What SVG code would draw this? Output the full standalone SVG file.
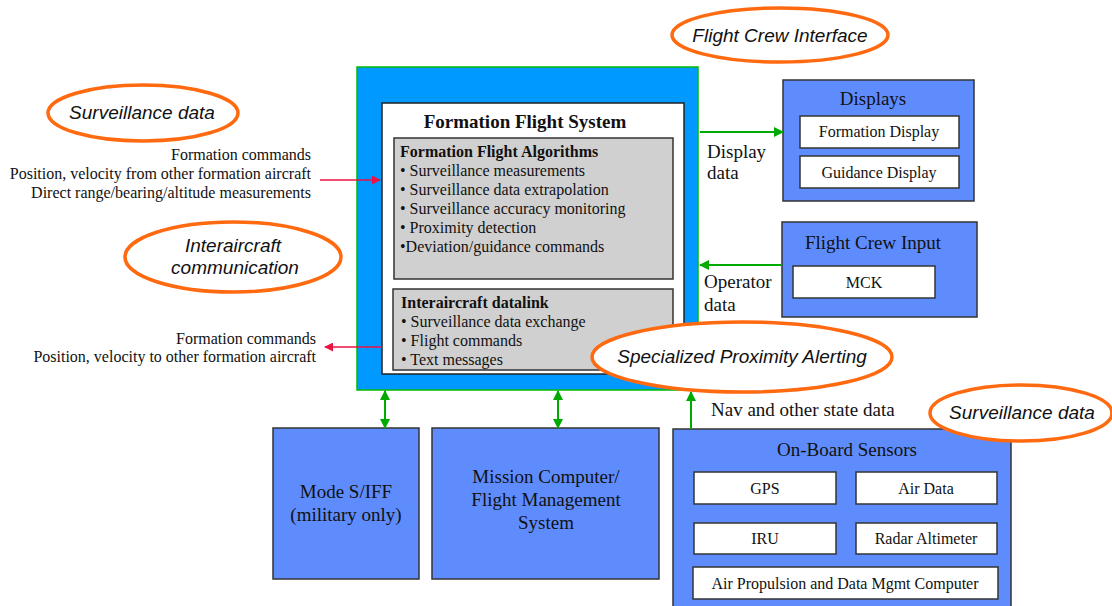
<svg xmlns="http://www.w3.org/2000/svg" width="1112" height="606" viewBox="0 0 1112 606">
<style>
.serif{font-family:"Liberation Serif","Times New Roman",serif;fill:#111}
.ell{fill:#fff;stroke:#ff6a10;stroke-width:3.5}
.etxt{font-family:"Liberation Sans",Arial,sans-serif;font-style:italic;font-size:19px;fill:#111;text-anchor:middle}
.node{fill:#5f8cfd;stroke:#333;stroke-width:1.5}
.wbox{fill:#fff;stroke:#333;stroke-width:1.5}
.gbox{fill:#d0d0d0;stroke:#333;stroke-width:1.5}
.green{stroke:#00aa00;stroke-width:2;fill:none}
.red{stroke:#ee1144;stroke-width:1.6;fill:none}
</style>
<defs>
<marker id="ga" viewBox="0 0 10 10" refX="9" refY="5" markerWidth="10" markerHeight="10" markerUnits="userSpaceOnUse" orient="auto-start-reverse"><path d="M0,0 L10,5 L0,10 z" fill="#00aa00"/></marker>
<marker id="ra" viewBox="0 0 10 10" refX="9" refY="5" markerWidth="9" markerHeight="9" markerUnits="userSpaceOnUse" orient="auto-start-reverse"><path d="M0,0 L10,5 L0,10 z" fill="#ee1144"/></marker>
</defs>

<g id="ffs">
<rect x="357" y="67" width="341" height="323" fill="#0099ff" stroke="#00bb00" stroke-width="1.5"/>
<rect x="382" y="103" width="302" height="271" fill="#fff" stroke="#222" stroke-width="1.5"/>
<text class="serif" x="525" y="128" font-size="19" font-weight="bold" text-anchor="middle">Formation Flight System</text>
<rect class="gbox" x="394" y="138" width="279" height="141"/>
<text class="serif" font-size="16" x="400" y="157" font-weight="bold">Formation Flight Algorithms</text>
<text class="serif" font-size="16" x="400" y="176">• Surveillance measurements</text>
<text class="serif" font-size="16" x="400" y="195">• Surveillance data extrapolation</text>
<text class="serif" font-size="16" x="400" y="214">• Surveillance accuracy monitoring</text>
<text class="serif" font-size="16" x="400" y="233">• Proximity detection</text>
<text class="serif" font-size="16" x="400" y="252">•Deviation/guidance commands</text>
<rect class="gbox" x="393" y="289" width="280" height="81"/>
<text class="serif" font-size="16" x="401" y="308" font-weight="bold">Interaircraft datalink</text>
<text class="serif" font-size="16" x="401" y="327">• Surveillance data exchange</text>
<text class="serif" font-size="16" x="401" y="346">• Flight commands</text>
<text class="serif" font-size="16" x="401" y="365">• Text messages</text>
</g>

<g id="displays">
<rect class="node" x="783" y="80" width="191" height="121"/>
<text class="serif" x="873" y="105" font-size="19" text-anchor="middle">Displays</text>
<rect class="wbox" x="800" y="116" width="159" height="32"/>
<text class="serif" x="879" y="137" font-size="16" text-anchor="middle">Formation Display</text>
<rect class="wbox" x="800" y="156" width="159" height="32"/>
<text class="serif" x="879" y="178" font-size="16" text-anchor="middle">Guidance Display</text>
</g>

<g id="crewinput">
<rect class="node" x="782" y="222" width="195" height="95"/>
<text class="serif" x="873" y="249" font-size="19" text-anchor="middle">Flight Crew Input</text>
<rect class="wbox" x="793" y="266" width="142" height="32"/>
<text class="serif" x="864" y="288" font-size="16" text-anchor="middle">MCK</text>
</g>

<g id="modes">
<rect class="node" x="273" y="428" width="146" height="151"/>
<text class="serif" x="346" y="498" font-size="19" text-anchor="middle">Mode S/IFF</text>
<text class="serif" x="346" y="521" font-size="19" text-anchor="middle">(military only)</text>
</g>

<g id="mission">
<rect class="node" x="432" y="428" width="227" height="151"/>
<text class="serif" x="546" y="483" font-size="19" text-anchor="middle">Mission Computer/</text>
<text class="serif" x="546" y="506" font-size="19" text-anchor="middle">Flight Management</text>
<text class="serif" x="546" y="529" font-size="19" text-anchor="middle">System</text>
</g>

<g id="sensors">
<rect class="node" x="673" y="429" width="338" height="190"/>
<text class="serif" x="847" y="456" font-size="19" text-anchor="middle">On-Board Sensors</text>
<rect class="wbox" x="694" y="472" width="142" height="32"/>
<text class="serif" x="765" y="494" font-size="16" text-anchor="middle">GPS</text>
<rect class="wbox" x="856" y="472" width="141" height="32"/>
<text class="serif" x="926" y="494" font-size="16" text-anchor="middle">Air Data</text>
<rect class="wbox" x="694" y="523" width="142" height="31"/>
<text class="serif" x="765" y="544" font-size="16" text-anchor="middle">IRU</text>
<rect class="wbox" x="856" y="523" width="141" height="31"/>
<text class="serif" x="926" y="544" font-size="16" text-anchor="middle">Radar Altimeter</text>
<rect class="wbox" x="693" y="567" width="305" height="32"/>
<text class="serif" x="845" y="589" font-size="16" text-anchor="middle">Air Propulsion and Data Mgmt Computer</text>
</g>

<g id="connectors">
<line class="red" x1="320" y1="180" x2="380" y2="180" marker-end="url(#ra)"/>
<line class="red" x1="382" y1="347" x2="325" y2="347" marker-end="url(#ra)"/>
<line class="green" x1="700" y1="132" x2="783" y2="132" marker-end="url(#ga)"/>
<line class="green" x1="782" y1="265" x2="700" y2="265" marker-end="url(#ga)"/>
<line class="green" x1="385" y1="391" x2="385" y2="428" marker-start="url(#ga)" marker-end="url(#ga)"/>
<line class="green" x1="558" y1="391" x2="558" y2="428" marker-start="url(#ga)" marker-end="url(#ga)"/>
<line class="green" x1="691" y1="429" x2="691" y2="392" marker-end="url(#ga)"/>
</g>

<g id="labels">
<g class="serif" font-size="16" text-anchor="end">
<text x="311" y="160">Formation commands</text>
<text x="311" y="179">Position, velocity from other formation aircraft</text>
<text x="311" y="198">Direct range/bearing/altitude measurements</text>
<text x="316" y="344">Formation commands</text>
<text x="316" y="362">Position, velocity to other formation aircraft</text>
</g>
<text class="serif" x="707" y="158" font-size="19">Display</text>
<text class="serif" x="707" y="179" font-size="19">data</text>
<text class="serif" x="704" y="288" font-size="19">Operator</text>
<text class="serif" x="704" y="311" font-size="19">data</text>
<text class="serif" x="711" y="416" font-size="19">Nav and other state data</text>
</g>

<g id="ell-surv-left">
<ellipse class="ell" cx="143" cy="113" rx="95" ry="28"/>
<text class="etxt" x="142" y="119">Surveillance data</text>
</g>
<g id="ell-interaircraft">
<ellipse class="ell" cx="233" cy="257" rx="108" ry="35"/>
<text class="etxt" x="233" y="252">Interaircraft</text>
<text class="etxt" x="235" y="274">communication</text>
</g>
<g id="ell-crew">
<ellipse class="ell" cx="780" cy="35" rx="108" ry="27"/>
<text class="etxt" x="780" y="42">Flight Crew Interface</text>
</g>
<g id="ell-prox">
<ellipse class="ell" cx="742" cy="357" rx="150" ry="35"/>
<text class="etxt" x="742" y="363">Specialized Proximity Alerting</text>
</g>
<g id="ell-surv-right">
<ellipse class="ell" cx="1021" cy="413" rx="91" ry="28"/>
<text class="etxt" x="1022" y="419">Surveillance data</text>
</g>
</svg>
